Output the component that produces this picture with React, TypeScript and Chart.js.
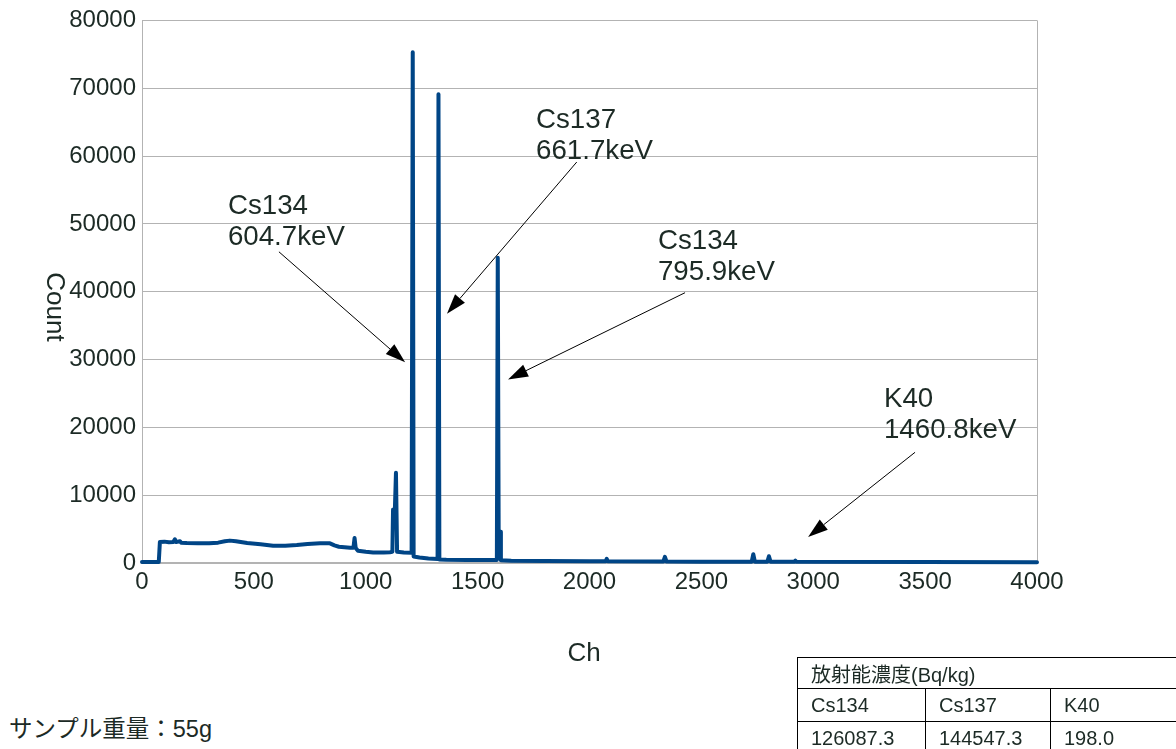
import React, { useEffect, useRef } from 'react';
import { Chart, registerables } from 'chart.js';

Chart.register(...registerables);

// ---- data ----
const channels = [
  0, 75, 80, 100, 120, 140, 147, 152, 170, 175, 200, 250, 300, 340, 370, 393, 420, 470, 530, 586,
  640, 692, 740, 796, 840, 860, 880, 930, 945, 950, 955, 965, 1000, 1033, 1080, 1108, 1119, 1122,
  1130, 1135, 1140, 1170, 1205, 1210, 1214, 1240, 1280, 1321, 1325, 1329, 1360, 1450, 1550, 1586,
  1590, 1594, 1600, 1604, 1650, 1800, 2000, 2072, 2077, 2082, 2330, 2337, 2344, 2500, 2725, 2732,
  2739, 2795, 2802, 2809, 2915, 2920, 2925, 3500, 4000,
];
const counts = [
  150, 150, 3100, 3150, 3050, 3100, 3500, 3100, 3200, 3000, 2950, 2900, 2900, 3000, 3200, 3300, 3200, 2950, 2750, 2550,
  2550, 2650, 2800, 2900, 2900, 2600, 2400, 2250, 2250, 3700, 2200, 1800, 1650, 1550, 1550, 1600, 1650, 7900,
  7700, 13300, 1650, 1550, 1500, 75300, 950, 800, 650, 600, 69100, 520, 480, 450, 430, 430,
  45000, 4700, 4600, 400, 320, 280, 250, 250, 600, 250, 220, 900, 220, 200, 200, 1300,
  200, 200, 1000, 200, 180, 350, 180, 150, 120,
];

const xTickValues = [0, 500, 1000, 1500, 2000, 2500, 3000, 3500, 4000];
const yTickValues = [0, 10000, 20000, 30000, 40000, 50000, 60000, 70000, 80000];

const xTitle = 'Ch';
const yTitle = 'Count';

// annotation labels (nuclide / energy)
const annotationNuclides = ['Cs134', 'Cs137', 'Cs134', 'K40'];
const annotationEnergies = ['604.7keV', '661.7keV', '795.9keV', '1460.8keV'];
// label anchors and arrows, in data units (channel, count)
const labelAnchorCh = [384, 1761, 2306, 3316];
const labelAnchorCount = [51471, 64118, 46324, 22941];
const arrowStartCh = [612, 1943, 2427, 3455];
const arrowStartCount = [45882, 59118, 39853, 16324];
const arrowTipCh = [1176, 1363, 1636, 2977];
const arrowTipCount = [29603, 36765, 27059, 3824];

const sampleWeightText = 'サンプル重量：55g';
const tableTitle = '放射能濃度(Bq/kg)';
const tableNuclides = ['Cs134', 'Cs137', 'K40'];
const tableValues = ['126087.3', '144547.3', '198.0'];

const TEXT = '#1c2a25';
const GRID = '#b3b3b3';
const LINE = '#004586';
const FONT = '"Liberation Sans", Arial, sans-serif';

const annotationPlugin = {
  id: 'spectrumAnnotations',
  afterDatasetsDraw(chart: any) {
    const { ctx, scales } = chart;
    const xs = scales.x;
    const ys = scales.y;
    ctx.save();
    // labels
    ctx.fillStyle = TEXT;
    ctx.font = `27.7px ${FONT}`;
    ctx.textAlign = 'left';
    ctx.textBaseline = 'alphabetic';
    for (let i = 0; i < annotationNuclides.length; i++) {
      const x = xs.getPixelForValue(labelAnchorCh[i]);
      const y = ys.getPixelForValue(labelAnchorCount[i]);
      ctx.fillText(annotationNuclides[i], x, y);
      ctx.fillText(annotationEnergies[i], x, y + 31);
    }
    // arrows
    ctx.strokeStyle = '#000';
    ctx.fillStyle = '#000';
    ctx.lineWidth = 1;
    for (let i = 0; i < arrowStartCh.length; i++) {
      const x0 = xs.getPixelForValue(arrowStartCh[i]);
      const y0 = ys.getPixelForValue(arrowStartCount[i]);
      const x1 = xs.getPixelForValue(arrowTipCh[i]);
      const y1 = ys.getPixelForValue(arrowTipCount[i]);
      const ang = Math.atan2(y1 - y0, x1 - x0);
      const headLen = 20;
      const headHalf = 6.5;
      const bx = x1 - headLen * Math.cos(ang);
      const by = y1 - headLen * Math.sin(ang);
      ctx.beginPath();
      ctx.moveTo(x0, y0);
      ctx.lineTo(bx, by);
      ctx.stroke();
      ctx.beginPath();
      ctx.moveTo(x1, y1);
      ctx.lineTo(bx + headHalf * Math.sin(ang), by - headHalf * Math.cos(ang));
      ctx.lineTo(bx - headHalf * Math.sin(ang), by + headHalf * Math.cos(ang));
      ctx.closePath();
      ctx.fill();
    }
    // axis titles
    ctx.font = `26px ${FONT}`;
    ctx.fillStyle = TEXT;
    ctx.textAlign = 'center';
    ctx.textBaseline = 'middle';
    ctx.fillText(xTitle, 584, 654);
    ctx.translate(54, 307);
    ctx.rotate(Math.PI / 2);
    ctx.fillText(yTitle, 0, 0);
    ctx.restore();
  },
};

function SpectrumChart() {
  const canvasRef = useRef<HTMLCanvasElement | null>(null);
  useEffect(() => {
    if (!canvasRef.current) return;
    const points = channels.map((c, i) => ({ x: c, y: counts[i] }));
    const chart = new Chart(canvasRef.current, {
      type: 'line',
      data: {
        datasets: [
          {
            label: yTitle,
            data: points,
            borderColor: LINE,
            backgroundColor: LINE,
            borderWidth: 4,
            borderJoinStyle: 'round',
            borderCapStyle: 'round',
            pointRadius: 0,
            tension: 0,
            fill: false,
            clip: false as any,
          },
        ],
      },
      options: {
        animation: false,
        responsive: false,
        maintainAspectRatio: false,
        layout: { padding: { left: 0, right: 139, top: 19, bottom: 32 } },
        plugins: { legend: { display: false }, tooltip: { enabled: false } },
        scales: {
          x: {
            type: 'linear',
            min: 0,
            max: 4000,
            afterBuildTicks: (s: any) => {
              s.ticks = xTickValues.map((v) => ({ value: v }));
            },
            afterFit: (s: any) => {
              s.height = 105;
            },
            ticks: {
              color: TEXT,
              font: { family: FONT, size: 24 },
              padding: 5,
              maxRotation: 0,
              autoSkip: false,
              callback: (v: any) => String(v),
            },
            grid: {
              drawTicks: false,
              color: (c: any) => (c.tick && c.tick.value === 4000 ? GRID : 'rgba(0,0,0,0)'),
              lineWidth: 1,
            },
            border: { display: true, color: GRID, width: 2 },
            title: { display: false, text: xTitle },
          },
          y: {
            type: 'linear',
            min: 0,
            max: 80000,
            afterBuildTicks: (s: any) => {
              s.ticks = yTickValues.map((v) => ({ value: v }));
            },
            afterFit: (s: any) => {
              s.width = 142;
            },
            ticks: {
              color: TEXT,
              font: { family: FONT, size: 24 },
              padding: 6,
              callback: (v: any) => String(v),
            },
            grid: { drawTicks: false, color: GRID, lineWidth: 1 },
            border: { display: true, color: GRID, width: 1 },
            title: { display: false, text: yTitle },
          },
        },
      },
      plugins: [annotationPlugin],
    });
    return () => chart.destroy();
  }, []);
  return <canvas ref={canvasRef} width={1176} height={700} style={{ display: 'block' }} />;
}

export default function App() {
  const cell: React.CSSProperties = {
    border: '1px solid #000',
    padding: '0 0 0 13px',
    textAlign: 'left',
    verticalAlign: 'middle',
    whiteSpace: 'nowrap',
  };
  return (
    <div
      style={{
        position: 'absolute',
        left: 0,
        top: 0,
        width: 1176,
        height: 749,
        overflow: 'hidden',
        background: '#fff',
        fontFamily: '"Liberation Sans", "Noto Sans CJK JP", sans-serif',
        color: TEXT,
      }}
    >
      <div style={{ position: 'absolute', left: 0, top: 0, width: 1176, height: 700 }}>
        <SpectrumChart />
      </div>
      <div style={{ position: 'absolute', left: 9, top: 715, fontSize: 23.5, lineHeight: '28px', whiteSpace: 'nowrap' }}>
        {sampleWeightText}
      </div>
      <table
        style={{
          position: 'absolute',
          left: 797,
          top: 657,
          borderCollapse: 'collapse',
          fontSize: 20,
          lineHeight: '22px',
          tableLayout: 'fixed',
          width: 380,
        }}
      >
        <colgroup>
          <col style={{ width: 128 }} />
          <col style={{ width: 125 }} />
          <col style={{ width: 127 }} />
        </colgroup>
        <tbody>
          <tr style={{ height: 31 }}>
            <td colSpan={3} style={{ ...cell, paddingTop: 3 }}>
              {tableTitle}
            </td>
          </tr>
          <tr style={{ height: 33 }}>
            {tableNuclides.map((n, i) => (
              <td key={i} style={cell}>
                {n}
              </td>
            ))}
          </tr>
          <tr style={{ height: 32 }}>
            {tableValues.map((v, i) => (
              <td key={i} style={cell}>
                {v}
              </td>
            ))}
          </tr>
        </tbody>
      </table>
    </div>
  );
}
